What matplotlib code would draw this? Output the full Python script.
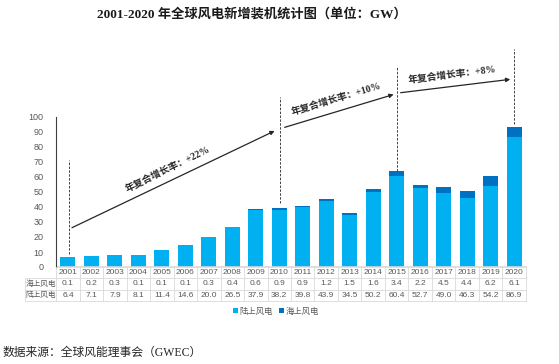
import matplotlib
matplotlib.use('Agg')
import matplotlib.pyplot as plt
import matplotlib.transforms as mtransforms
import numpy as np

years = [str(y) for y in range(2001, 2021)]
onshore = [6.4, 7.1, 7.9, 8.1, 11.4, 14.6, 20.0, 26.5, 37.9, 38.2,
           39.8, 43.9, 34.5, 50.2, 60.4, 52.7, 49.0, 46.3, 54.2, 86.9]
offshore = [0.1, 0.2, 0.3, 0.1, 0.1, 0.1, 0.3, 0.4, 0.6, 0.9,
            0.9, 1.2, 1.5, 1.6, 3.4, 2.2, 4.5, 4.4, 6.2, 6.1]
row_labels = ['海上风电', '陆上风电']
cagr_labels = ['年复合增长率：+22%', '年复合增长率：+10%', '年复合增长率：+8%']

cjk = ['Noto Sans CJK SC', 'DejaVu Sans']
serif_cjk = ['Liberation Serif', 'Noto Sans CJK SC']
sans = ['Liberation Sans', 'Noto Sans CJK SC']
gray = '#595959'
c_on = '#00B0F0'
c_off = '#0070C0'

fig = plt.figure(figsize=(5.59, 3.64), dpi=100)
ax = fig.add_axes([56.25 / 559, 1 - 267 / 364, (525.75 - 56.25) / 559, (267 - 45) / 364])

x = np.arange(len(years))
b1 = ax.bar(x, onshore, width=0.64, color=c_on, label='陆上风电')
b2 = ax.bar(x, offshore, width=0.64, bottom=onshore, color=c_off, label='海上风电')

ax.set_xlim(-0.5, len(years) - 0.5)
ax.set_ylim(0, 148)
ax.set_yticks(range(0, 101, 10))
ax.set_yticklabels([str(v) for v in range(0, 101, 10)], family=sans, fontsize=6.5, color=gray)
ax.tick_params(axis='y', length=0, pad=9)
ax.set_xticks([])
for s in ['top', 'right']:
    ax.spines[s].set_visible(False)
ax.spines['left'].set_bounds(0, 100)
ax.spines['left'].set_color('#404040')
ax.spines['left'].set_linewidth(0.8)
ax.spines['bottom'].set_color('#d9d9d9')
ax.spines['bottom'].set_linewidth(0.6)

# dashed marker lines and CAGR arrows
dash_lines = [(0.05, 9, 71), (9.05, 43, 113), (14.0, 64, 134), (18.98, 95, 145)]
for xi, y0, y1 in dash_lines:
    ax.plot([xi, xi], [y0, y1], ls=(0, (2.5, 1.5)), color='#404040', lw=0.7, clip_on=False)

arrows = [((0.17, 26.2), (8.8, 90.7)), ((9.23, 93.1), (13.87, 115.0)), ((14.17, 116.2), (18.84, 125.1))]
for (xa, ya), (xb, yb) in arrows:
    ax.annotate('', xy=(xb, yb), xytext=(xa, ya),
                arrowprops=dict(arrowstyle='-|>', color='#262626', lw=0.9,
                                mutation_scale=6, shrinkA=0, shrinkB=0))

text_pos = [(4.26, 65.5, 26), (11.43, 112.0, 16.7), (16.37, 128.5, 7.1)]
for (tx, ty, rot), lab in zip(text_pos, cagr_labels):
    ax.text(tx, ty, lab, rotation=rot, rotation_mode='anchor', ha='center', va='center',
            family=serif_cjk, fontsize=7, fontweight='bold', color='#262626')

# data table under the axis
tr = mtransforms.blended_transform_factory(ax.transData, fig.transFigure)
lc = '#d9d9d9'
rows_y = [1 - 266 / 364, 1 - 278 / 364, 1 - 289.5 / 364, 1 - 301 / 364]
x_left = -1.83
x_right = len(years) - 0.5
for i, yy in enumerate(rows_y):
    xs = -0.5 if i == 0 else x_left
    ax.plot([xs, x_right], [yy, yy], color=lc, lw=0.6, transform=tr, clip_on=False)
for k in range(len(years) + 1):
    ax.plot([k - 0.5, k - 0.5], [rows_y[0], rows_y[3]], color=lc, lw=0.6, transform=tr, clip_on=False)
ax.plot([x_left, x_left], [rows_y[1], rows_y[3]], color=lc, lw=0.6, transform=tr, clip_on=False)

mid = [(rows_y[i] + rows_y[i + 1]) / 2 for i in range(3)]
for k, yr in enumerate(years):
    ax.text(k, mid[0], yr, transform=tr, ha='center', va='center', family=sans, fontsize=6, color=gray)
    ax.text(k, mid[1], f'{offshore[k]:.1f}', transform=tr, ha='center', va='center', family=sans, fontsize=6, color=gray)
    ax.text(k, mid[2], f'{onshore[k]:.1f}', transform=tr, ha='center', va='center', family=sans, fontsize=6, color=gray)
for j, lab in enumerate(row_labels):
    ax.text((x_left - 0.5) / 2, mid[j + 1], lab, transform=tr, ha='center', va='center',
            family=cjk, fontsize=5.5, color=gray)

leg = fig.legend(handles=[b1, b2], loc='center', bbox_to_anchor=(276 / 559, 1 - 311 / 364),
                 ncol=2, frameon=False, handlelength=0.6, handleheight=0.6, handletextpad=0.2,
                 columnspacing=0.8, prop={'family': cjk, 'size': 6})
for t in leg.get_texts():
    t.set_color(gray)

fig.text(252 / 559, 1 - 14 / 364, '2001-2020 年全球风电新增装机统计图（单位：GW）', ha='center', va='center',
         family=serif_cjk, fontsize=9.5, fontweight='bold', color='#1a1a1a')
fig.text(3 / 559, 1 - 353 / 364, '数据来源：全球风能理事会（GWEC）', ha='left', va='center',
         family=serif_cjk, fontsize=8.5, color='#262626')

fig.savefig('out.png', dpi=100)
